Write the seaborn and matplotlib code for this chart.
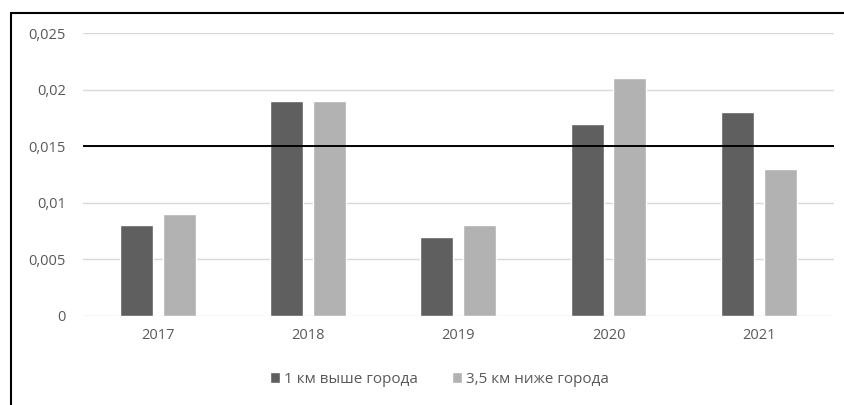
import numpy as np
import pandas as pd
import seaborn as sns
import matplotlib.pyplot as plt
from matplotlib.lines import Line2D
from matplotlib.ticker import FuncFormatter

years = ["2017", "2018", "2019", "2020", "2021"]
above = [0.008, 0.019, 0.007, 0.017, 0.018]
below = [0.009, 0.019, 0.008, 0.021, 0.013]
series = ["1 км выше города", "3,5 км ниже города"]
threshold = 0.015

# Long format for seaborn
df = pd.DataFrame({
    "Год": years * 2,
    "Значение": above + below,
    "Точка": [series[0]] * len(years) + [series[1]] * len(years),
})

sns.set_theme(style="white")
plt.rcParams["font.family"] = ["Open Sans", "DejaVu Sans"]
text_color = "#595959"

fig = plt.figure(figsize=(8.44, 4.05), dpi=100)
ax = fig.add_axes([0.098, 0.22, 0.89, 0.6985])

sns.barplot(data=df, x="Год", y="Значение", hue="Точка",
            palette=["#5f5f5f", "#b2b2b2"], width=0.57, gap=0.23,
            saturation=1, ax=ax, legend=True)

ax.set_ylim(0, 0.025)
ax.set_xlim(-0.5, len(years) - 0.5)
ax.set_yticks(np.arange(0, 0.0251, 0.005))
ax.yaxis.set_major_formatter(
    FuncFormatter(lambda v, p: "0" if v == 0 else f"{v:.3f}".rstrip("0").replace(".", ",")))
ax.grid(axis="y", color="#d9d9d9", linewidth=1)
ax.set_axisbelow(True)
ax.axhline(threshold, color="black", linewidth=1.4, zorder=5)

for s in ax.spines.values():
    s.set_visible(False)
ax.tick_params(axis="y", length=0, labelsize=10.5, labelcolor=text_color, pad=12)
ax.tick_params(axis="x", length=0, labelsize=10.5, labelcolor=text_color, pad=9)
ax.set_xlabel("")
ax.set_ylabel("")

ax.legend(loc="upper center", bbox_to_anchor=(0.475, -0.15), ncol=2, frameon=False,
          fontsize=11, labelcolor=text_color, handlelength=0.65, handleheight=0.7,
          handletextpad=0.3, columnspacing=2.2)

# Frame lines (top and left only, as in the reference)
fig.add_artist(Line2D([0.013, 1.0], [0.969, 0.969], color="black", linewidth=1.5,
                      transform=fig.transFigure))
fig.add_artist(Line2D([0.013, 0.013], [0.0, 0.969], color="black", linewidth=1.5,
                      transform=fig.transFigure))

fig.savefig("out.png", dpi=100)
